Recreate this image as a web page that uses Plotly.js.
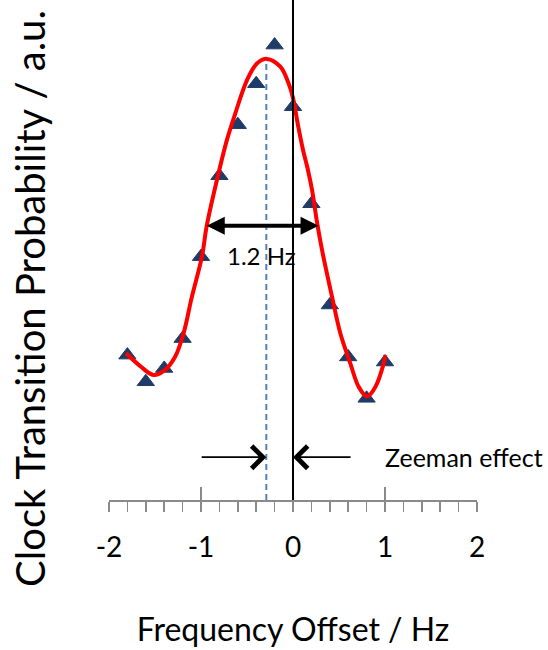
<!DOCTYPE html>
<html>
<head>
<meta charset="utf-8">
<script src="https://cdn.plot.ly/plotly-3.0.1.min.js"></script>
<style>html,body{margin:0;padding:0;background:#fff;}#chart{width:548px;height:650px;}</style>
</head>
<body>
<div id="chart"></div>
<script>
// Measured points (frequency offset in Hz, probability in a.u.)
const offsetHz = [-1.8, -1.6, -1.4, -1.2, -1.0, -0.8, -0.6, -0.4, -0.2, 0.0, 0.2, 0.4, 0.6, 0.8, 1.0];
const probability = [0.315, 0.257, 0.286, 0.351, 0.529, 0.705, 0.816, 0.905, 0.989, 0.855, 0.644, 0.424, 0.311, 0.221, 0.300];

// Fitted curve
const fitX = [-1.814, -1.66, -1.517, -1.39, -1.28, -1.19, -1.10, -0.99, -0.936, -0.81, -0.718, -0.628, -0.50, -0.392, -0.283, -0.138, -0.048, 0.0, 0.054, 0.109, 0.163, 0.207, 0.261, 0.316, 0.424, 0.515, 0.623, 0.714, 0.805, 0.896, 0.986, 1.004];
const fitY = [0.319, 0.291, 0.272, 0.283, 0.312, 0.362, 0.441, 0.529, 0.598, 0.710, 0.783, 0.840, 0.913, 0.949, 0.959, 0.942, 0.906, 0.874, 0.815, 0.761, 0.717, 0.674, 0.604, 0.543, 0.442, 0.362, 0.297, 0.246, 0.225, 0.246, 0.297, 0.315];

// Reference lines and annotations (Hz)
const zeroOffset = 0;
const lineCenter = -0.29;
const lineCenterTop = 0.955;
const fwhmLeft = -0.954, fwhmRight = 0.278, fwhmLevel = 0.596;
const fwhmLabel = '1.2 Hz';
const zeemanLeftTail = -1.009, zeemanRightTail = 0.642, zeemanLevel = 0.093;
const zeemanLabel = 'Zeeman effect';
const xTicks = [-2, -1, 0, 1, 2];

const FONT = 'Lato, "Open Sans", sans-serif';

const traces = [
  {
    x: offsetHz, y: probability, type: 'scatter', mode: 'markers',
    marker: {symbol: 'triangle-up', size: 15, color: '#1F3B68', line: {color: '#1F3B68', width: 1}},
    hoverinfo: 'skip', showlegend: false
  },
  {
    x: fitX, y: fitY, type: 'scatter', mode: 'lines',
    line: {color: '#FF0000', width: 4, shape: 'spline', smoothing: 1},
    hoverinfo: 'skip', showlegend: false
  },
  {
    // empty trace on the overlay axis that draws the upper half of the major tick crosses
    x: [xTicks[0], xTicks[xTicks.length-1]], y: [null, null], xaxis: 'x2', type: 'scatter', mode: 'lines',
    showlegend: false, hoverinfo: 'skip'
  }
];

const layout = {
  width: 548, height: 650,
  margin: {l: 109, r: 71, t: 0, b: 150},
  paper_bgcolor: '#fff', plot_bgcolor: '#fff',
  showlegend: false,
  font: {family: FONT, color: '#000'},
  xaxis: {
    range: [-2, 2], tickvals: xTicks, ticktext: xTicks.map(String),
    showgrid: false, zeroline: false,
    showline: true, linecolor: '#8a8a8a', linewidth: 1.5,
    ticks: 'outside', ticklen: 10, tickcolor: '#8a8a8a', tickwidth: 1.5,
    minor: {dtick: 0.2, tick0: 0, ticks: 'outside', ticklen: 10, tickcolor: '#8a8a8a', tickwidth: 1.5, showgrid: false},
    tickfont: {family: FONT, size: 28, color: '#000'},
    ticklabelstandoff: 12,
    title: {text: 'Frequency Offset / Hz', font: {family: FONT, size: 32, color: '#000'}, standoff: 56}
  },
  xaxis2: {
    overlaying: 'x', matches: 'x', anchor: 'y', side: 'bottom',
    range: [-2, 2], tickvals: xTicks, showticklabels: false,
    showgrid: false, zeroline: false, showline: false,
    ticks: 'inside', ticklen: 13, tickcolor: '#8a8a8a', tickwidth: 1.5
  },
  yaxis: {range: [0, 1.087], visible: false, fixedrange: true},
  shapes: [
    {type: 'line', xref: 'x', yref: 'y', x0: zeroOffset, x1: zeroOffset, y0: 0, y1: 1.087,
     line: {color: '#000', width: 2}},
    {type: 'line', xref: 'x', yref: 'y', x0: lineCenter, x1: lineCenter, y0: 0, y1: lineCenterTop,
     line: {color: '#4F81BD', width: 2, dash: '6px,4px'}}
  ],
  annotations: [
    {x: fwhmRight, y: fwhmLevel, ax: fwhmLeft, ay: fwhmLevel, xref: 'x', yref: 'y', axref: 'x', ayref: 'y',
     text: '', showarrow: true, arrowhead: 2, startarrowhead: 2, arrowside: 'end+start',
     arrowsize: 0.9, startarrowsize: 0.9, arrowwidth: 4, arrowcolor: '#000'},
    {x: -0.34, y: 0.532, xref: 'x', yref: 'y', text: fwhmLabel, showarrow: false,
     font: {family: FONT, size: 24, color: '#000'}},
    {x: lineCenter, y: zeemanLevel, ax: zeemanLeftTail, ay: zeemanLevel, xref: 'x', yref: 'y', axref: 'x', ayref: 'y',
     text: '', showarrow: true, arrowhead: 4, arrowsize: 2.4, arrowwidth: 1.8, arrowcolor: '#000'},
    {x: zeroOffset, y: zeemanLevel, ax: zeemanRightTail, ay: zeemanLevel, xref: 'x', yref: 'y', axref: 'x', ayref: 'y',
     text: '', showarrow: true, arrowhead: 4, arrowsize: 2.4, arrowwidth: 1.8, arrowcolor: '#000'},
    {x: 0.975, y: zeemanLevel, xref: 'x', yref: 'y', xanchor: 'left', text: zeemanLabel, showarrow: false,
     font: {family: FONT, size: 25, color: '#000'}},
    {x: -0.215, y: 0.404, xref: 'paper', yref: 'paper', xanchor: 'center', yanchor: 'middle',
     text: 'Clock Transition Probability / a.u.',
     textangle: -90, showarrow: false, font: {family: FONT, size: 40, color: '#000'}}
  ]
};

Plotly.newPlot('chart', traces, layout, {staticPlot: true, displayModeBar: false});
</script>
</body>
</html>
